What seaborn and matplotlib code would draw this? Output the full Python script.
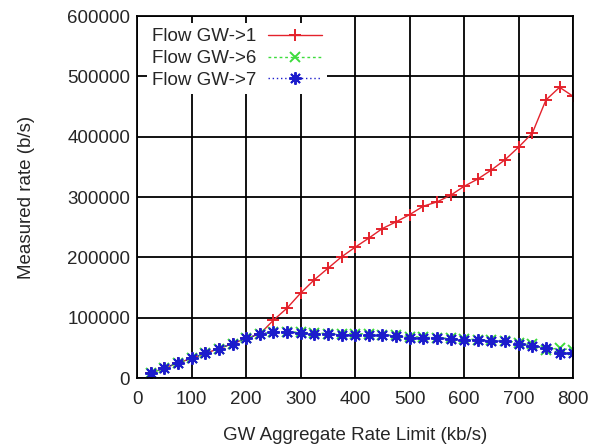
import numpy as np
import pandas as pd
import seaborn as sns
import matplotlib.pyplot as plt

# Datos
limite = list(range(25, 825, 25))

flujo_1 = [8000, 17000, 25000, 33000, 41000, 49000, 57000, 66000, 73000,
           96000, 116000, 141000, 163000, 182000, 201000, 217000, 232000,
           248000, 259000, 271000, 285000, 292000, 303000, 318000, 330000,
           345000, 362000, 383000, 406000, 461000, 482000, 467000]

flujo_6 = [8000, 17000, 25000, 33000, 41000, 49000, 57000, 66000, 73000,
           77000, 77000, 76000, 75000, 74000, 74000, 74000, 73000, 72000,
           71000, 69000, 68000, 67000, 66000, 65000, 64000, 63000, 62000,
           59000, 56000, 47000, 50000, 46000]

flujo_7 = [8000, 17000, 25000, 33000, 41000, 49000, 57000, 66000, 73000,
           77000, 76000, 75000, 74000, 73000, 72000, 72000, 71000, 71000,
           70000, 67000, 67000, 66000, 65000, 64000, 63000, 62000, 61000,
           57000, 54000, 50000, 41000, 42000]

etiquetas = ["Flow GW->1", "Flow GW->6", "Flow GW->7"]

if __name__ == "__main__":
    sns.set_style("white")
    plt.rcParams["font.family"] = ["Liberation Sans", "DejaVu Sans"]

    df = pd.DataFrame({"x": limite, etiquetas[0]: flujo_1,
                       etiquetas[1]: flujo_6, etiquetas[2]: flujo_7})

    colores = ["#e4222c", "#3ddc3d", "#1c1ccc"]
    marcas = ["+", "x", (8, 2, 0)]
    trazos = ["-", (0, (2, 2)), (0, (1, 2))]
    tamanos = [9, 6.5, 9]

    fig = plt.figure(figsize=(6.04, 4.47), dpi=100)
    ax = fig.add_axes([0.227, 0.154, 0.722, 0.810])

    for nombre, c, m, t, ms in zip(etiquetas, colores, marcas, trazos, tamanos):
        sns.lineplot(data=df, x="x", y=nombre, ax=ax, color=c, lw=1.0,
                     linestyle=t, marker=m, markersize=ms,
                     markeredgecolor=c, markeredgewidth=1.4, label=nombre)

    ax.set_xlim(0, 800)
    ax.set_ylim(0, 600000)
    ax.set_xticks(np.arange(0, 801, 100))
    ax.set_yticks(np.arange(0, 600001, 100000))
    ax.set_yticklabels([str(v) for v in range(0, 600001, 100000)])
    ax.grid(True, color="black", lw=1.3)
    ax.set_axisbelow(True)
    for s in ax.spines.values():
        s.set_color("black")
        s.set_linewidth(1.3)
    ax.tick_params(labelsize=13.5, colors="#262626", direction="in", length=0)
    ax.tick_params(axis="x", pad=9)
    ax.tick_params(axis="y", pad=5)

    ax.set_xlabel("GW Aggregate Rate Limit (kb/s)", fontsize=13.5,
                  color="#262626", labelpad=14)
    ax.set_ylabel("Measured rate (b/s)", fontsize=13.5, color="#262626",
                  labelpad=23)

    # leyenda con fondo blanco que tapa la rejilla, como en gnuplot
    leg = ax.legend(loc="upper left", bbox_to_anchor=(0.015, 0.99),
                    frameon=True, fancybox=False, framealpha=1.0,
                    edgecolor="white", facecolor="white",
                    markerfirst=False, handlelength=2.9, fontsize=13.5,
                    labelspacing=0.25, borderaxespad=0.2, borderpad=0.25,
                    handletextpad=0.6)
    leg.get_frame().set_linewidth(0)

    plt.savefig("out.png", dpi=100)
